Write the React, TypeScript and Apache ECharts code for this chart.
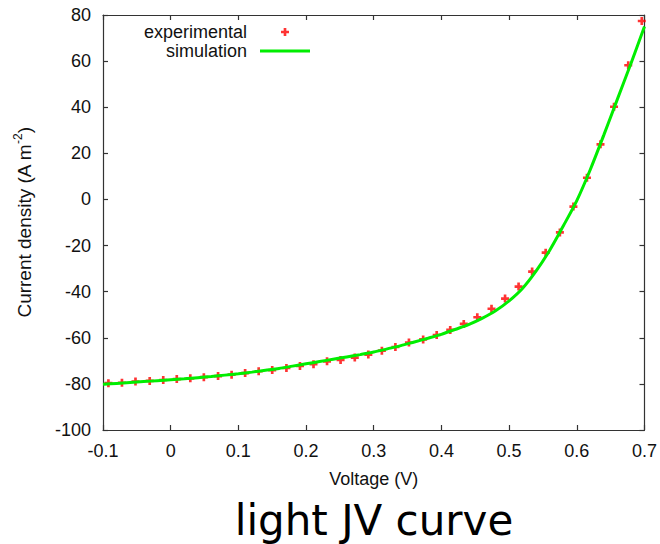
import React, { useEffect, useRef } from "react";
import * as echarts from "echarts";

const expVoltage = [
  -0.092, -0.072, -0.052, -0.031, -0.011, 0.009, 0.029, 0.049, 0.07, 0.09,
  0.11, 0.13, 0.15, 0.171, 0.191, 0.211, 0.231, 0.251, 0.272, 0.292,
  0.312, 0.332, 0.352, 0.373, 0.393, 0.413, 0.433, 0.453, 0.474, 0.494,
  0.514, 0.534, 0.554, 0.575, 0.595, 0.615, 0.635, 0.655, 0.676, 0.696,
];
const expCurrent = [
  -79.7, -79.5, -79.0, -78.7, -78.3, -77.9, -77.6, -77.1, -76.6, -76.0,
  -75.3, -74.5, -74.0, -73.1, -72.2, -71.5, -70.2, -69.6, -68.6, -67.3,
  -65.6, -64.0, -62.1, -60.7, -58.8, -56.6, -54.0, -51.1, -47.4, -43.0,
  -37.8, -31.3, -23.1, -14.3, -3.1, 9.4, 23.9, 40.2, 58.2, 77.4,
];
const simVoltage = [
  -0.1, -0.08, -0.06, -0.04, -0.02, 0.0, 0.02, 0.04, 0.06, 0.08,
  0.1, 0.12, 0.14, 0.16, 0.18, 0.2, 0.22, 0.24, 0.26, 0.28,
  0.3, 0.32, 0.34, 0.36, 0.38, 0.4, 0.42, 0.44, 0.46, 0.48,
  0.5, 0.52, 0.54, 0.56, 0.58, 0.6, 0.62, 0.64, 0.66, 0.68, 0.7,
];
const simCurrent = [
  -80.2, -79.8, -79.4, -79.0, -78.6, -78.2, -77.8, -77.3, -76.8, -76.2,
  -75.6, -74.9, -74.1, -73.3, -72.3, -71.3, -70.3, -69.3, -68.3, -67.3,
  -66.2, -64.8, -63.4, -61.8, -60.2, -58.5, -56.4, -54.3, -51.6, -48.3,
  -44.0, -38.5, -31.0, -22.0, -11.5, -0.5, 13.0, 28.0, 43.5, 59.0, 75.0,
];

const seriesNames = ["experimental", "simulation"];
const xAxisTitle = "Voltage (V)";
const yAxisTitleMain = "Current density (A m";
const yAxisTitleSup = "-2";
const chartTitle = "light JV curve";

const X_MIN = -0.1;
const X_MAX = 0.7;
const X_STEP = 0.1;
const Y_MIN = -100;
const Y_MAX = 80;
const Y_STEP = 20;

const PLUS = "path://M3,0H6V3H9V6H6V9H3V6H0V3H3Z";

const FONT = "'Liberation Sans', Arial, sans-serif";
const AXIS_COLOR = "#333333";
const GREEN = "#00ee00";
const RED = "#ff0000";

export default function App() {
  const ref = useRef<HTMLDivElement>(null);

  useEffect(() => {
    document.body.style.margin = "0";
    if (!ref.current) return;
    const chart = echarts.init(ref.current, undefined, { renderer: "svg" });

    const expData = expVoltage.map((v, i) => [v, expCurrent[i]]);
    const simData = simVoltage.map((v, i) => [v, simCurrent[i]]);

    const axisLine = {
      show: true,
      onZero: false,
      lineStyle: { color: AXIS_COLOR, width: 1.2 },
    };
    const axisTick = {
      show: true,
      inside: true,
      length: 5,
      lineStyle: { color: AXIS_COLOR, width: 1.2 },
    };
    const tickLabel = { color: "#111", fontSize: 18, fontFamily: FONT, margin: 12 };

    const legendText = {
      color: "#111",
      fontSize: 18,
      fontFamily: FONT,
      rich: {
        t: { color: "#111", fontSize: 18, fontFamily: FONT, padding: [0, 8, 0, 0] },
      },
    };

    chart.setOption({
      animation: false,
      backgroundColor: "#ffffff",
      grid: { left: 103, right: 10, top: 15, bottom: 114, containLabel: false },
      legend: [
        {
          data: [{ name: seriesNames[0], icon: PLUS }],
          right: 371,
          top: 23,
          orient: "vertical",
          align: "right",
          itemWidth: 50,
          itemHeight: 8,
          padding: 0,
          formatter: "{t|{name}}",
          textStyle: legendText,
          selectedMode: false,
        },
        {
          data: [{ name: seriesNames[1], icon: "rect" }],
          right: 350,
          top: 42,
          orient: "vertical",
          align: "right",
          itemWidth: 50,
          itemHeight: 3,
          padding: 0,
          formatter: "{t|{name}}",
          textStyle: legendText,
          selectedMode: false,
        },
      ],
      xAxis: [
        {
          type: "value",
          min: X_MIN,
          max: X_MAX,
          interval: X_STEP,
          position: "bottom",
          name: xAxisTitle,
          nameLocation: "middle",
          nameGap: 40,
          nameTextStyle: { color: "#111", fontSize: 18, fontFamily: FONT },
          axisLine,
          axisTick,
          axisLabel: tickLabel,
          splitLine: { show: false },
        },
        {
          type: "value",
          min: X_MIN,
          max: X_MAX,
          interval: X_STEP,
          position: "top",
          axisLine,
          axisTick,
          axisLabel: { show: false },
          splitLine: { show: false },
        },
      ],
      yAxis: [
        {
          type: "value",
          min: Y_MIN,
          max: Y_MAX,
          interval: Y_STEP,
          position: "left",
          name: `{a|${yAxisTitleMain}}{s|${yAxisTitleSup}}{a|)}`,
          nameLocation: "middle",
          nameGap: 67,
          nameTextStyle: {
            color: "#111",
            fontSize: 19,
            fontFamily: FONT,
            rich: {
              a: { color: "#111", fontSize: 19, fontFamily: FONT, lineHeight: 24 },
              s: {
                color: "#111",
                fontSize: 12,
                fontFamily: FONT,
                lineHeight: 12,
                verticalAlign: "top",
              },
            },
          },
          axisLine,
          axisTick,
          axisLabel: tickLabel,
          splitLine: { show: false },
        },
        {
          type: "value",
          min: Y_MIN,
          max: Y_MAX,
          interval: Y_STEP,
          position: "right",
          axisLine,
          axisTick,
          axisLabel: { show: false },
          splitLine: { show: false },
        },
      ],
      graphic: [
        {
          type: "text",
          x: 374,
          y: 520,
          style: {
            text: chartTitle,
            textAlign: "center",
            textVerticalAlign: "middle",
            font: "42px 'DejaVu Sans'",
            fill: "#000",
          },
        },
      ],
      series: [
        {
          name: seriesNames[0],
          type: "scatter",
          data: expData,
          symbol: PLUS,
          symbolSize: 8,
          symbolKeepAspect: true,
          itemStyle: { color: RED },
          z: 2,
        },
        {
          name: seriesNames[1],
          type: "line",
          data: simData,
          smooth: 0.3,
          showSymbol: false,
          symbol: "none",
          lineStyle: { color: GREEN, width: 3 },
          itemStyle: { color: GREEN },
          z: 3,
        },
      ],
    });

    return () => chart.dispose();
  }, []);

  return <div ref={ref} style={{ width: 660, height: 544 }} />;
}
